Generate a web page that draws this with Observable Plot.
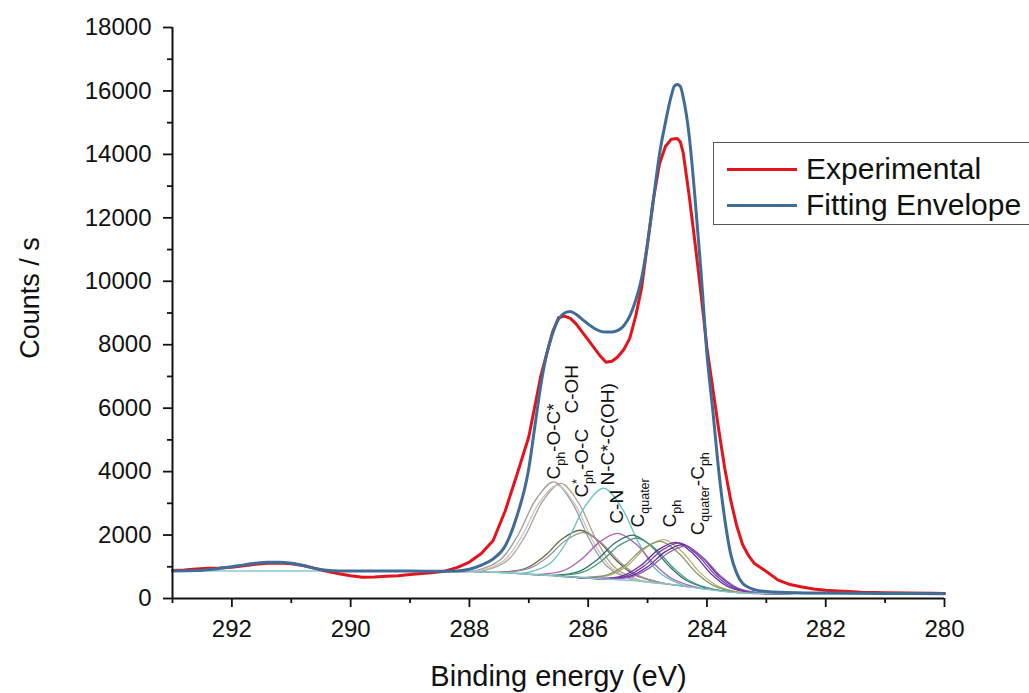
<!DOCTYPE html>
<html>
<head>
<meta charset="utf-8">
<script src="https://cdn.jsdelivr.net/npm/d3@7"></script>
<script src="https://cdn.jsdelivr.net/npm/@observablehq/plot@0.6"></script>
<style>
html, body { margin: 0; padding: 0; background: #fff; overflow: hidden; }
#wrap { position: relative; width: 1029px; height: 693px; }
#legend { position: absolute; left: 713px; top: 142px; width: 330px; height: 83px; border: 1.5px solid #555;
  box-sizing: border-box; font-family: "Liberation Sans", Arial, sans-serif; font-size: 30px; color: #111; background: #fff; }
.row { position: absolute; left: 0; height: 36px; display: flex; align-items: center; white-space: nowrap; }
.sw { width: 70px; height: 3px; margin-left: 13px; margin-right: 9px; }
</style>
</head>
<body>
<div id="wrap"></div>
<script>
// ---------- Experimental spectrum ----------
const expEnergy = [293.0, 292.8, 292.6, 292.4, 292.2, 292.0, 291.8, 291.6, 291.4, 291.2, 291.0, 290.8, 290.6, 290.4, 290.2, 290.0,
  289.8, 289.6, 289.4, 289.2, 289.0, 288.8, 288.6, 288.4, 288.2, 288.0, 287.8, 287.6, 287.4, 287.2, 287.0, 286.8, 286.6, 286.5,
  286.4, 286.3, 286.2, 286.1, 286.0, 285.9, 285.8, 285.7, 285.6, 285.5, 285.4, 285.3, 285.2, 285.1, 285.0, 284.9, 284.8, 284.7,
  284.6, 284.5, 284.45, 284.4, 284.3, 284.2, 284.1, 284.0, 283.9, 283.8, 283.7, 283.6, 283.5, 283.4, 283.3, 283.2, 283.1, 283.0,
  282.8, 282.6, 282.4, 282.2, 282.0, 281.8, 281.6, 281.4, 281.2, 281.0, 280.6, 280.2, 280.0];
const expCounts = [880, 900, 930, 950, 960, 985, 1030, 1080, 1110, 1120, 1095, 1040, 950, 860, 780, 720,
  670, 680, 700, 720, 760, 790, 820, 870, 980, 1150, 1420, 1830, 2750, 3900, 5100, 7000, 8400, 8850,
  8900, 8830, 8650, 8400, 8150, 7900, 7650, 7450, 7480, 7620, 7850, 8200, 8900, 9800, 11200, 12600, 13700, 14250,
  14480, 14500, 14400, 14050, 12700, 11200, 9600, 7900, 6600, 5300, 4100, 3100, 2300, 1700, 1350, 1100, 980, 850,
  580, 440, 360, 300, 260, 240, 220, 200, 190, 185, 175, 165, 160];

// ---------- Fitting envelope ----------
const fitEnergy = [293.0, 292.6, 292.2, 292.0, 291.8, 291.6, 291.4, 291.2, 291.0, 290.8, 290.6, 290.4, 290.2, 289.5, 289.0, 288.5,
  288.2, 288.0, 287.8, 287.6, 287.4, 287.2, 287.0, 286.9, 286.8, 286.7, 286.6, 286.5, 286.4, 286.3, 286.2, 286.1, 286.0, 285.9,
  285.8, 285.7, 285.6, 285.5, 285.4, 285.3, 285.2, 285.1, 285.0, 284.9, 284.8, 284.7, 284.6, 284.55, 284.5, 284.45, 284.4, 284.3,
  284.2, 284.1, 284.0, 283.9, 283.8, 283.7, 283.6, 283.5, 283.4, 283.2, 283.0, 282.5, 282.0, 281.0, 280.0];
const fitCounts = [870, 880, 950, 1000, 1060, 1110, 1140, 1140, 1110, 1040, 950, 890, 870, 866, 864, 862,
  870, 920, 1050, 1250, 1650, 2600, 4100, 5400, 6700, 7700, 8350, 8800, 9000, 9050, 8950, 8800, 8650, 8520,
  8430, 8400, 8400, 8450, 8600, 8900, 9400, 10100, 11200, 12600, 14000, 15000, 15850, 16150, 16200, 16150, 15800, 14600,
  12600, 10300, 7700, 5900, 4000, 2500, 1400, 800, 480, 280, 220, 180, 170, 160, 150];

// ---------- Background ----------
const bgEnergy = [293, 290, 288.5, 288, 287.5, 287, 286.5, 286, 285.5, 285, 284.5, 284, 283.5, 283, 282, 280];
const bgCounts = [870, 866, 860, 850, 820, 765, 705, 645, 590, 530, 420, 290, 185, 155, 145, 140];

// ---------- Fitted components (energy / counts) ----------
const compEnergies = [
  [288.38, 287.88, 287.48, 287.18, 286.88, 286.58, 286.28, 285.98, 285.68, 285.28, 284.78],
  [288.26, 287.76, 287.36, 287.06, 286.76, 286.46, 286.16, 285.86, 285.56, 285.16, 284.66],
  [288.32, 287.82, 287.42, 287.12, 286.82, 286.52, 286.22, 285.92, 285.62, 285.22, 284.72],
  [287.93, 287.43, 287.03, 286.73, 286.43, 286.13, 285.83, 285.53, 285.23, 284.83, 284.33],
  [287.88, 287.38, 286.98, 286.68, 286.38, 286.08, 285.78, 285.48, 285.18, 284.78, 284.28],
  [287.54, 287.04, 286.64, 286.34, 286.04, 285.74, 285.44, 285.14, 284.84, 284.44, 283.94],
  [287.3, 286.8, 286.4, 286.1, 285.8, 285.5, 285.2, 284.9, 284.6, 284.2, 283.7],
  [287.05, 286.55, 286.15, 285.85, 285.55, 285.25, 284.95, 284.65, 284.35, 283.95, 283.45],
  [286.98, 286.48, 286.08, 285.78, 285.48, 285.18, 284.88, 284.58, 284.28, 283.88, 283.38],
  [286.52, 286.02, 285.62, 285.32, 285.02, 284.72, 284.42, 284.12, 283.82, 283.42, 282.92],
  [286.58, 286.08, 285.68, 285.38, 285.08, 284.78, 284.48, 284.18, 283.88, 283.48, 282.98],
  [286.32, 285.82, 285.42, 285.12, 284.82, 284.52, 284.22, 283.92, 283.62, 283.22, 282.72],
  [286.26, 285.76, 285.36, 285.06, 284.76, 284.46, 284.16, 283.86, 283.56, 283.16, 282.66],
  [286.2, 285.7, 285.3, 285.0, 284.7, 284.4, 284.1, 283.8, 283.5, 283.1, 282.6],
  [286.16, 285.66, 285.26, 284.96, 284.66, 284.36, 284.06, 283.76, 283.46, 283.06, 282.56]
];
const compCounts = [
  [859, 889, 1218, 2002, 3121, 3675, 3050, 1860, 1010, 610, 482],
  [853, 882, 1201, 1976, 3083, 3630, 3010, 1834, 993, 594, 455],
  [856, 884, 1197, 1953, 3031, 3563, 2962, 1811, 989, 600, 468],
  [846, 835, 970, 1345, 1890, 2151, 1819, 1205, 758, 516, 376],
  [843, 829, 955, 1311, 1828, 2075, 1758, 1172, 743, 504, 363],
  [822, 814, 1108, 1861, 2941, 3479, 2874, 1721, 881, 448, 277],
  [798, 763, 890, 1257, 1792, 2050, 1723, 1108, 639, 364, 227],
  [770, 733, 857, 1221, 1749, 2000, 1672, 1045, 575, 302, 182],
  [763, 723, 837, 1176, 1669, 1902, 1585, 992, 545, 286, 178],
  [703, 659, 743, 1068, 1609, 1858, 1476, 823, 392, 192, 154],
  [715, 666, 743, 1053, 1563, 1802, 1438, 814, 398, 195, 155],
  [683, 636, 716, 1030, 1532, 1770, 1389, 759, 346, 179, 152],
  [676, 628, 708, 1021, 1516, 1750, 1371, 745, 333, 176, 151],
  [669, 623, 698, 1001, 1476, 1700, 1328, 719, 317, 168, 150],
  [664, 618, 688, 974, 1428, 1640, 1279, 693, 310, 166, 149]
];
const compColors = ["#9b9b9b", "#b3a18f", "#c9c3c3", "#5f6b3c", "#a58fa0", "#5ec4c4", "#b25cb5",
  "#2f6f72", "#3f9e74", "#c2ad6e", "#7f9a6a", "#6a2c9a", "#7b3fb0", "#5b2d86", "#9055c0"];

// ---------- Peak annotations ----------
const labelTexts = ["C_{ph}-O-C*", "C-OH", "C^{*}_{ph}-O-C", "N-C*-C(OH)", "C-N", "C_{quater}", "C_{ph}", "C_{quater}-C_{ph}"];
const labelEnergy = [286.57, 286.27, 286.1, 285.67, 285.51, 285.16, 284.62, 284.16];
const labelCounts = [3750, 5830, 3180, 3560, 2360, 2240, 2240, 1990];

// ---------- Ticks ----------
const xMajorTicks = [292, 290, 288, 286, 284, 282, 280];
const xMinorTicks = [293, 291, 289, 287, 285, 283, 281];
const yMajorTicks = [0, 2000, 4000, 6000, 8000, 10000, 12000, 14000, 16000, 18000];
const yMinorTicks = [1000, 3000, 5000, 7000, 9000, 11000, 13000, 15000, 17000];

const toRows = (es, cs) => es.map((e, i) => ({e, c: cs[i]}));
const expRows = toRows(expEnergy, expCounts);
const fitRows = toRows(fitEnergy, fitCounts);
const bgRows = toRows(bgEnergy, bgCounts);
const labelRows = labelTexts.map((t, i) => ({t, e: labelEnergy[i], c: labelCounts[i]}));

const font = '"Liberation Sans", Arial, sans-serif';
const plot = Plot.plot({
  width: 1029, height: 693,
  marginLeft: 172, marginRight: 85, marginTop: 27, marginBottom: 95,
  style: {fontFamily: font, color: "#111", background: "transparent"},
  x: {domain: [293, 280]},
  y: {domain: [0, 18000]},
  marks: [
    ...compEnergies.map((es, i) => Plot.line(toRows(es, compCounts[i]),
      {x: "e", y: "c", stroke: compColors[i], strokeWidth: 1.3, curve: "catmull-rom"})),
    Plot.line(bgRows, {x: "e", y: "c", stroke: "#86c6cc", strokeWidth: 1.4, curve: "monotone-x"}),
    Plot.line(expRows, {x: "e", y: "c", stroke: "#e3141c", strokeWidth: 3}),
    Plot.line(fitRows, {x: "e", y: "c", stroke: "#3f6d98", strokeWidth: 3, curve: "monotone-x"}),
    Plot.axisX({ticks: xMajorTicks, tickSize: 9, tickPadding: 12, tickFormat: d => String(d), fontSize: 24, strokeWidth: 1.8, label: null}),
    Plot.axisX({ticks: xMinorTicks, tickSize: 5, tickFormat: () => "", strokeWidth: 1.8, label: null}),
    Plot.axisY({ticks: yMajorTicks, tickSize: 9, tickPadding: 12, tickFormat: d => String(d), fontSize: 24, strokeWidth: 1.8, label: null}),
    Plot.axisY({ticks: yMinorTicks, tickSize: 5, tickFormat: () => "", strokeWidth: 1.8, label: null}),
    Plot.ruleY([0], {stroke: "#111", strokeWidth: 2}),
    Plot.ruleX([293], {stroke: "#111", strokeWidth: 2}),
    Plot.text(labelRows, {x: "e", y: "c", text: "t", rotate: -90, textAnchor: "start", fontSize: 19, fill: "#111", className: "peak-label"}),
    Plot.text(["Counts / s"], {frameAnchor: "left", textAnchor: "middle", lineAnchor: "middle", dx: -142, dy: -15, rotate: -90, fontSize: 27, fill: "#111"}),
    Plot.text(["Binding energy (eV)"], {frameAnchor: "bottom", textAnchor: "middle", lineAnchor: "middle", dy: 78, fontSize: 29, fill: "#111"})
  ]
});

const wrap = document.getElementById("wrap");
wrap.appendChild(plot);

// Rich text (subscripts / superscripts) for peak labels
function richText(node, str) {
  const parts = str.match(/_\{[^}]*\}|\^\{[^}]*\}|[^_^]+/g);
  while (node.firstChild) node.removeChild(node.firstChild);
  let shift = 0, lastSup = null;
  for (const p of parts) {
    const isSub = p.startsWith("_{"), isSup = p.startsWith("^{");
    const target = isSub ? 5 : isSup ? -7 : 0;
    const txt = (isSub || isSup) ? p.slice(2, -1) : p;
    const t = document.createElementNS("http://www.w3.org/2000/svg", "tspan");
    t.setAttribute("dy", target - shift);
    shift = target;
    if (isSub || isSup) t.setAttribute("font-size", "12.5px");
    t.textContent = txt;
    node.appendChild(t);
    if (isSub && lastSup) t.setAttribute("dx", -lastSup.getComputedTextLength());
    lastSup = isSup ? t : null;
  }
}
d3.select(plot).selectAll("g.peak-label text").each(function(d, i) { richText(this, labelTexts[i]); });

// Legend
const legend = document.createElement("div");
legend.id = "legend";
const series = [["Experimental", "#e3141c", 8], ["Fitting Envelope", "#3f6d98", 44]];
for (const [name, color, top] of series) {
  const row = document.createElement("div");
  row.className = "row";
  row.style.top = top + "px";
  const sw = document.createElement("div");
  sw.className = "sw";
  sw.style.background = color;
  const label = document.createElement("span");
  label.textContent = name;
  row.appendChild(sw);
  row.appendChild(label);
  legend.appendChild(row);
}
wrap.appendChild(legend);
</script>
</body>
</html>
